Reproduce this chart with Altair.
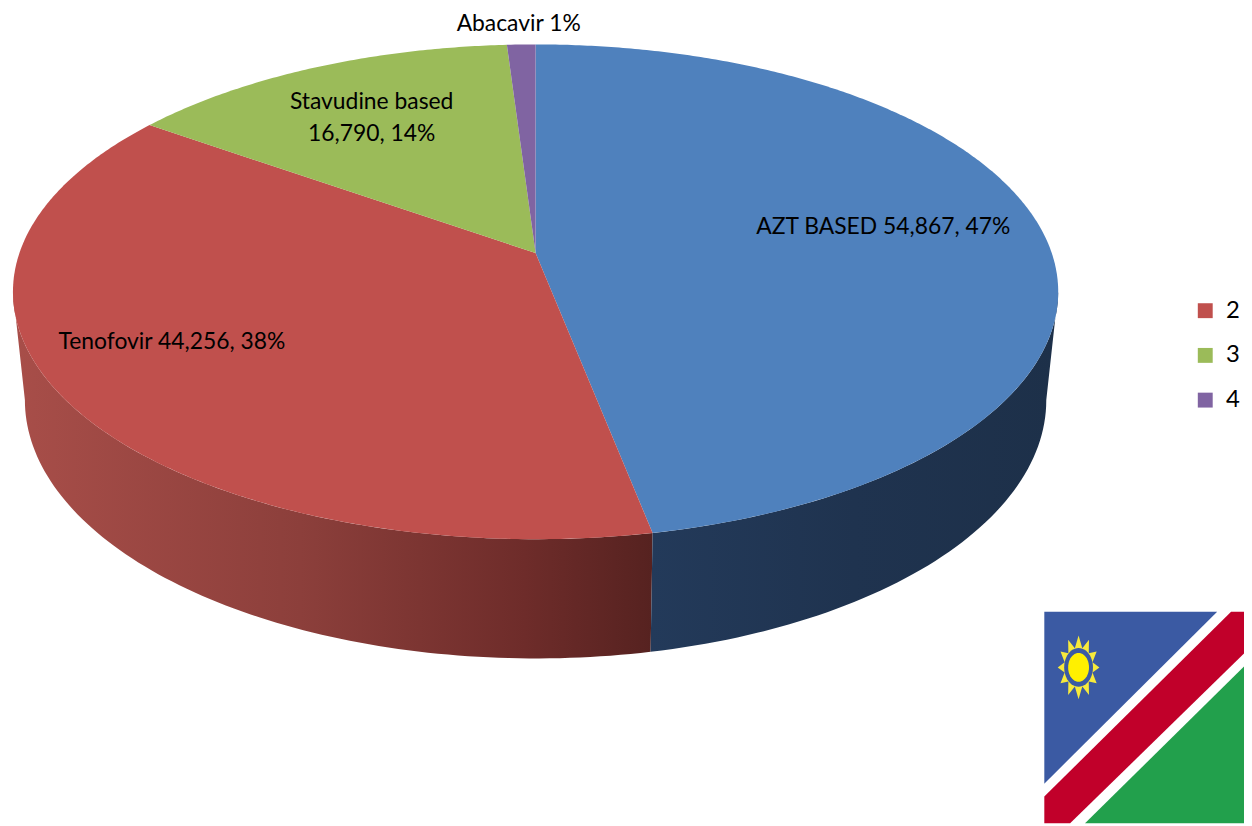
import math
import altair as alt
import pandas as pd

# --- chart values ---
names = ["AZT BASED", "Tenofovir", "Stavudine based", "Abacavir"]
patients = [54867, 44256, 16790, None]
percents = [47, 38, 14, 1]
series = ["1", "2", "3", "4"]
slice_colors = ["#4F81BD", "#C0504D", "#9BBB59", "#8064A2"]
legend_values = ["2", "3", "4"]

FONT = "Lato"
W, H = 1244, 818
X_DOM, Y_DOM = [8, 1252], [826, 8]

# 3-D look: an ellipse top, apex off-centre, a smaller ellipse for the base
TOP = dict(cx=539.0, cy=291.0, rx=526.0, ry=249.0)
BASE = dict(cx=539.0, cy=400.0, rx=514.0, ry=260.0)
APEX = (539.0, 252.0)
STRETCH = (526.0, 240.0)


def ray_hit(phi):
    """Where the ray from the apex at pie angle phi (degrees) meets the top ellipse."""
    r = math.radians(phi)
    dx, dy = STRETCH[0] * math.sin(r), -STRETCH[1] * math.cos(r)
    ox, oy = (APEX[0] - TOP["cx"]) / TOP["rx"], (APEX[1] - TOP["cy"]) / TOP["ry"]
    ux, uy = dx / TOP["rx"], dy / TOP["ry"]
    a, b, c = ux * ux + uy * uy, 2 * (ox * ux + oy * uy), ox * ox + oy * oy - 1
    s = (-b + math.sqrt(b * b - 4 * a * c)) / (2 * a)
    return APEX[0] + s * dx, APEX[1] + s * dy


def ell(e, t):
    r = math.radians(t)
    return e["cx"] + e["rx"] * math.sin(r), e["cy"] - e["ry"] * math.cos(r)


def frame(points, s=""):
    return pd.DataFrame(
        {"x": [p[0] for p in points], "y": [p[1] for p in points],
         "i": list(range(len(points))), "series": s}
    )


X = alt.X("x:Q", scale=alt.Scale(domain=X_DOM, nice=False, zero=False), axis=None)
Y = alt.Y("y:Q", scale=alt.Scale(domain=Y_DOM, nice=False, zero=False), axis=None)
ORDER = alt.Order("i:Q")


def solid(points, color):
    return alt.Chart(frame(points)).mark_line(
        interpolate="linear-closed", fill=color, strokeWidth=0, strokeOpacity=0
    ).encode(x=X, y=Y, order=ORDER)


def shaded(points, stops):
    grad = alt.Gradient(
        gradient="linear", x1=0, x2=1, y1=0, y2=0,
        stops=[alt.GradientStop(offset=o, color=c) for o, c in stops],
    )
    return alt.Chart(frame(points)).mark_line(
        interpolate="linear-closed", fill=grad, strokeWidth=0, strokeOpacity=0
    ).encode(x=X, y=Y, order=ORDER)


# --- slices ---
edges = [0.0]
for p in percents:
    edges.append(edges[-1] + p * 3.6)

slice_frames = []
for k, s in enumerate(series):
    n = max(2, int((edges[k + 1] - edges[k]) * 2))
    arc = [ray_hit(edges[k] + (edges[k + 1] - edges[k]) * j / n) for j in range(n + 1)]
    slice_frames.append(frame([APEX] + arc, s))
slices = pd.concat(slice_frames)

legend = alt.Legend(
    values=legend_values, title=None, orient="none", legendX=1193, legendY=290,
    symbolType="square", symbolSize=225, symbolStrokeWidth=0, symbolOpacity=1,
    labelFont=FONT, labelFontSize=24, labelColor="#000000", labelOffset=9,
    rowPadding=21, labelLimit=60,
)
pie_top = alt.Chart(slices).mark_line(
    interpolate="linear-closed", strokeWidth=0, strokeOpacity=0, fillOpacity=1
).encode(
    x=X, y=Y, order=ORDER,
    fill=alt.Fill("series:N", scale=alt.Scale(domain=series, range=slice_colors), legend=legend),
)

# --- side wall ---
split_x = ray_hit(edges[1])[0]
t_split = 180 - math.degrees(math.asin((split_x - TOP["cx"]) / TOP["rx"]))
t_base = 180 - math.degrees(math.asin((split_x - 2 - BASE["cx"]) / BASE["rx"]))

wall_blue = [ell(TOP, 90 + (t_split - 90) * j / 60) for j in range(61)] + \
            [ell(BASE, t_base + (90 - t_base) * j / 60) for j in range(61)]
wall_red = [ell(TOP, t_split + (270 - t_split) * j / 90) for j in range(91)] + \
           [ell(BASE, 270 + (t_base - 270) * j / 90) for j in range(91)]

# --- flag ---
FL, FT, FR, FB = 1051, 613, 1252, 826
flag_blue = [(FL, FT), (1225, FT), (FL, 786)]
flag_red = [(1239, FT), (FR, FT), (FR, 655), (1077, FB), (FL, FB), (FL, 799)]
flag_green = [(FR, 668), (FR, FB), (1092, FB)]
SUN = (1085.5, 669.0)


def oval(rx, ry, n=48):
    return [(SUN[0] + rx * math.sin(2 * math.pi * j / n), SUN[1] - ry * math.cos(2 * math.pi * j / n))
            for j in range(n)]


star = []
for j in range(24):
    a = 2 * math.pi * j / 24
    rx, ry = (21.0, 32.0) if j % 2 == 0 else (14.5, 20.0)
    star.append((SUN[0] + rx * math.sin(a), SUN[1] - ry * math.cos(a)))

# --- labels ---
fmt = lambda v: f"{v:,}"
label_rows = [
    (889, 226, f"{names[0]}  {fmt(patients[0])}, {percents[0]}%"),
    (173, 342, f"{names[1]}  {fmt(patients[1])}, {percents[1]}%"),
    (374, 100, names[2]),
    (374, 132, f"{fmt(patients[2])}, {percents[2]}%"),
    (522, 21, f"{names[3]}  {percents[3]}%"),
]
labels = alt.Chart(pd.DataFrame(label_rows, columns=["x", "y", "t"])).mark_text(
    font=FONT, fontSize=23, color="#000000", align="center", baseline="middle"
).encode(x=X, y=Y, text="t:N")

chart = alt.layer(
    shaded(wall_red, [(0, "#A84E49"), (0.45, "#8C3F3B"), (0.8, "#6E2C2A"), (1, "#562220")]),
    shaded(wall_blue, [(0, "#233A5A"), (0.5, "#1F334F"), (1, "#1D3049")]),
    pie_top,
    solid(flag_blue, "#3B5AA3"),
    solid(flag_red, "#C1002A"),
    solid(flag_green, "#22A04C"),
    solid(star, "#F7EA3B"),
    solid(oval(14.5, 19.5), "#3B5AA3"),
    solid(oval(10.5, 14.5), "#FFF000"),
    labels,
).properties(
    width=W, height=H, padding=0, autosize=alt.AutoSizeParams(type="none"),
    background="#FFFFFF",
).configure_view(stroke=None)

chart.save("out.html", embed_options={"renderer": "svg", "actions": False})
